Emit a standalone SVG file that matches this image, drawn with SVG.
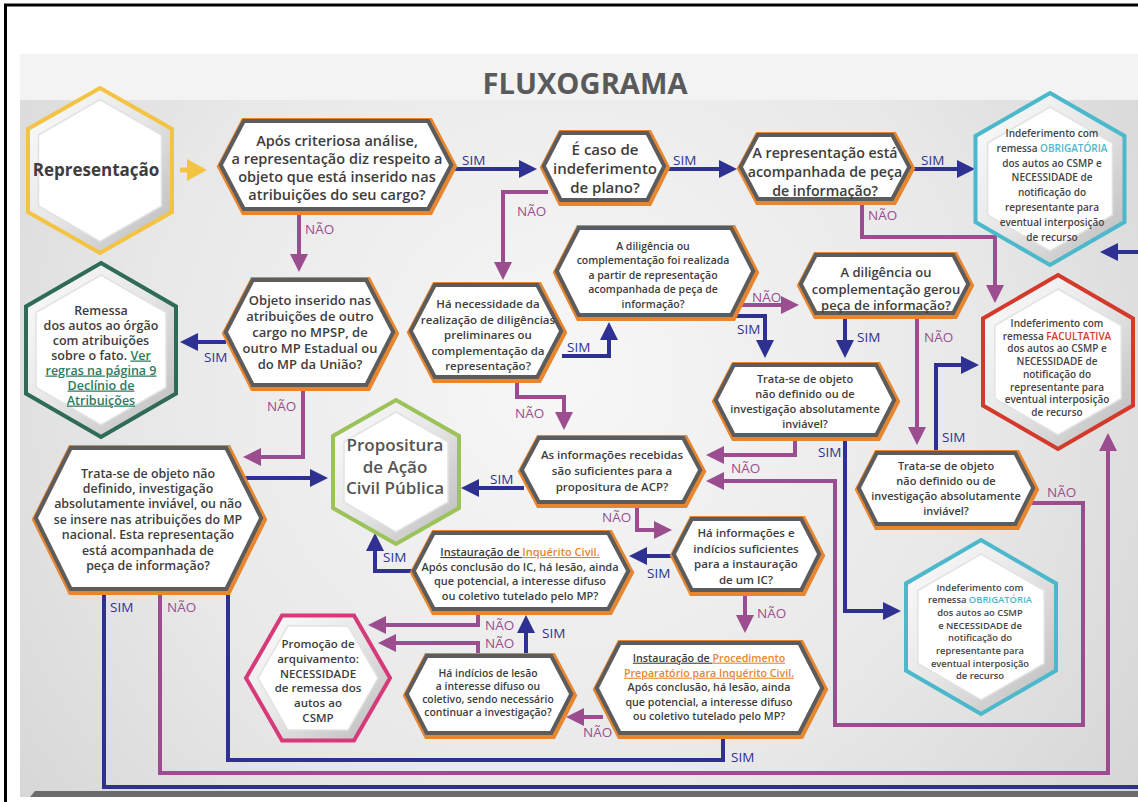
<svg xmlns="http://www.w3.org/2000/svg" width="1138" height="802" viewBox="0 0 1138 802">
<style>
.t{font-family:"Open Sans","Noto Sans",sans-serif;font-weight:600;fill:#3d3d3d;text-anchor:middle}
.sm{font-family:"Open Sans","Noto Sans",sans-serif;font-weight:600;fill:#444;text-anchor:middle}
.lb{font-family:"Open Sans","Noto Sans",sans-serif;font-size:13.5px}
.sim{fill:#2e3192}
.nao{fill:#9b4d8f}
.cb{fill:none;stroke:#2e3192;stroke-width:4;marker-end:url(#mb)}
.cp{fill:none;stroke:#9b4d8f;stroke-width:4;marker-end:url(#mp)}
.ho{fill:none;stroke:#e8862f;stroke-width:13;stroke-linejoin:miter}
.hg{fill:none;stroke:#5c5c5c;stroke-width:8}
.hw{fill:#fff}
.ring{fill:url(#bev);stroke-width:4}
.in{fill:#fff;stroke:#e2e2e2;stroke-width:1.5}
</style>
<defs>
<radialGradient id="bg" cx="560" cy="380" r="700" gradientUnits="userSpaceOnUse">
<stop offset="0" stop-color="#f7f7f7"/><stop offset="0.6" stop-color="#e8e8e8"/><stop offset="1" stop-color="#d6d6d6"/>
</radialGradient>
<linearGradient id="bev" x1="0" y1="0" x2="1" y2="1">
<stop offset="0" stop-color="#fdfdfd"/><stop offset="0.5" stop-color="#e6e6e6"/><stop offset="1" stop-color="#b9b9b9"/>
</linearGradient>
<marker id="mb" markerUnits="userSpaceOnUse" markerWidth="20" markerHeight="20" refX="14" refY="9" orient="auto"><path d="M0,0 L18,9 L0,18 z" fill="#2e3192"/></marker>
<marker id="mp" markerUnits="userSpaceOnUse" markerWidth="20" markerHeight="20" refX="14" refY="9" orient="auto"><path d="M0,0 L18,9 L0,18 z" fill="#9b4d8f"/></marker>
<marker id="my" markerUnits="userSpaceOnUse" markerWidth="22" markerHeight="24" refX="16" refY="11" orient="auto"><path d="M0,0 L20,11 L0,22 z" fill="#f3c444"/></marker>
<polygon id="pB" points="223,165 245,123 427,123 449,165 427,207 245,207"/>
<polygon id="pC" points="546,166 562,135 646,135 662,166 646,198 562,198"/>
<polygon id="pD" points="743,167 759,137 891,137 907,167 891,197 759,197"/>
<polygon id="pH" points="228,332 254,282 365,282 391,332 365,383 254,383"/>
<polygon id="pI" points="413,331 436,287 536,287 559,331 536,375 436,375"/>
<polygon id="pJ" points="559,271 580,230 730,230 751,271 730,313 580,313"/>
<polygon id="pK" points="803,284 817,257 952,257 966,284 952,311 817,311"/>
<polygon id="pL" points="718,400 735,367 875,367 892,400 875,433 735,433"/>
<polygon id="pM" points="861,488 878,455 1014,455 1031,488 1014,522 878,522"/>
<polygon id="pN" points="524,470 540,440 682,440 698,470 682,500 540,500"/>
<polygon id="pP" points="38,518 72,450 225,450 259,518 225,587 72,587"/>
<polygon id="pQ" points="416,571 435,535 607,535 626,571 607,607 435,607"/>
<polygon id="pR" points="676,554 693,521 800,521 817,554 800,588 693,588"/>
<polygon id="pS" points="599,688 621,645 798,645 820,688 798,731 621,731"/>
<polygon id="pT" points="409,694 428,658 550,658 569,694 550,731 428,731"/>
</defs>

<g id="background">
<rect x="0" y="0" width="1138" height="802" fill="#fff"/>
<rect x="20" y="54" width="1118" height="46" fill="#f3f3f3"/>
<rect x="20" y="100" width="1118" height="697" fill="url(#bg)"/>
<polygon points="30,797 35,791 1138,791 1138,797" fill="#6b6b6b"/>
<path d="M5.5,802 V5 H1138" fill="none" stroke="#000" stroke-width="3"/>
<text x="585" y="94" text-anchor="middle" font-family="'Open Sans','Noto Sans',sans-serif" font-weight="700" font-size="29" fill="#5a5a5a" textLength="205" lengthAdjust="spacingAndGlyphs">FLUXOGRAMA</text>
</g>

<g id="connectors">
<path d="M180,170 H203" fill="none" stroke="#f3c444" stroke-width="5" marker-end="url(#my)"/>
<path class="cb" d="M455,169 H533"/>
<path class="cb" d="M668,169 H733"/>
<path class="cb" d="M913,169 H971"/>
<path class="cp" d="M299,212 V268"/>
<path class="cp" d="M548,192 H503 V276"/>
<path class="cb" d="M562,356 H609 V326"/>
<path class="cp" d="M517,378 V397 H564 V426"/>
<path class="cp" d="M740,305 H795"/>
<path class="cb" d="M736,316 H765 V354"/>
<path class="cb" d="M845,316 V354"/>
<path class="cp" d="M917,316 V441"/>
<path class="cp" d="M862,202 V237 H995 V299"/>
<path class="cb" d="M936,450 V365 H975"/>
<path class="cp" d="M795,438 V455 H710"/>
<path class="cp" d="M1028,503 H1083 V725 H835 V481 H710"/>
<path class="cb" d="M845,438 V611 H897"/>
<path class="cb" d="M524,488 H465"/>
<path class="cp" d="M637,505 V530 H668"/>
<path class="cb" d="M672,556 H633"/>
<path class="cp" d="M745,593 V629"/>
<path class="cb" d="M412,571 H375 V537"/>
<path class="cp" d="M478,612 V625 H372"/>
<path class="cp" d="M478,655 V643 H382"/>
<path class="cb" d="M526,655 V619"/>
<path class="cp" d="M603,717 H570"/>
<path class="cb" d="M723,736 V760 H228 V478 H324"/>
<path class="cp" d="M160,592 V773 H1108 V437"/>
<path fill="none" stroke="#2e3192" stroke-width="4" d="M104,592 V787 H1140"/>
<path class="cb" d="M1140,252 H1104"/>
<path class="cb" d="M226,342 H184"/>
<path class="cp" d="M303,388 V457 H247"/>
<g class="lb">
<text class="sim" x="462" y="165">SIM</text>
<text class="sim" x="673" y="165">SIM</text>
<text class="sim" x="921" y="165">SIM</text>
<text class="nao" x="305" y="234">NÃO</text>
<text class="nao" x="517" y="216">NÃO</text>
<text class="sim" x="567" y="352">SIM</text>
<text class="nao" x="515" y="418">NÃO</text>
<text class="nao" x="752" y="302">NÃO</text>
<text class="sim" x="737" y="334">SIM</text>
<text class="sim" x="857" y="342">SIM</text>
<text class="nao" x="924" y="342">NÃO</text>
<text class="nao" x="868" y="220">NÃO</text>
<text class="sim" x="942" y="442">SIM</text>
<text class="nao" x="731" y="473">NÃO</text>
<text class="nao" x="1047" y="497">NÃO</text>
<text class="sim" x="818" y="457">SIM</text>
<text class="sim" x="490" y="484">SIM</text>
<text class="nao" x="602" y="522">NÃO</text>
<text class="sim" x="647" y="578">SIM</text>
<text class="nao" x="757" y="618">NÃO</text>
<text class="sim" x="383" y="562">SIM</text>
<text class="nao" x="485" y="630">NÃO</text>
<text class="nao" x="485" y="648">NÃO</text>
<text class="sim" x="542" y="638">SIM</text>
<text class="nao" x="583" y="737">NÃO</text>
<text class="sim" x="731" y="762">SIM</text>
<text class="nao" x="167" y="612">NÃO</text>
<text class="sim" x="110" y="612">SIM</text>
<text class="sim" x="204" y="362">SIM</text>
<text class="nao" x="267" y="411">NÃO</text>
</g>
</g>

<g id="n-representacao">
<polygon class="ring" stroke="#f3c444" points="100,88 172,129 172,212 100,253 28,212 28,129"/>
<polygon class="in" points="100,99.5 161.5,135 161.5,206 100,241.5 38.5,206 38.5,135"/>
<text class="t" x="96" y="176" font-size="17" style="font-weight:700">Representação</text>
</g>

<g id="n-analise">
<use href="#pB" class="ho" transform="translate(1,1.5)"/><use href="#pB" class="hg"/><use href="#pB" class="hw"/>
<text class="t" font-size="14.5"><tspan x="337" y="146">Após criteriosa análise,</tspan><tspan x="337" y="164">a representação diz respeito a</tspan><tspan x="337" y="182">objeto que está inserido nas</tspan><tspan x="337" y="200">atribuições do seu cargo?</tspan></text>
</g>

<g id="n-indeferimento-plano">
<use href="#pC" class="ho" transform="translate(1,1.5)"/><use href="#pC" class="hg"/><use href="#pC" class="hw"/>
<text class="t" font-size="15"><tspan x="605" y="155">É caso de</tspan><tspan x="605" y="174">indeferimento</tspan><tspan x="605" y="193">de plano?</tspan></text>
</g>

<g id="n-acompanhada">
<use href="#pD" class="ho" transform="translate(1,1.5)"/><use href="#pD" class="hg"/><use href="#pD" class="hw"/>
<text class="t" font-size="14.2"><tspan x="825" y="158">A representação está</tspan><tspan x="825" y="177">acompanhada de peça</tspan><tspan x="825" y="196">de informação?</tspan></text>
</g>

<g id="n-obrigatoria-1">
<polygon class="ring" stroke="#4bb8cc" points="1050,93 1124.5,136 1124.5,222 1050,265 975.5,222 975.5,136"/>
<polygon class="in" points="1050,107 1112.4,143 1112.4,215 1050,251 987.6,215 987.6,143"/>
<text class="sm" font-size="10"><tspan x="1052" y="137">Indeferimento com</tspan><tspan x="1052" y="151.8">remessa <tspan fill="#4bb8cc">OBRIGATÓRIA</tspan></tspan><tspan x="1052" y="166.6">dos autos ao CSMP e</tspan><tspan x="1052" y="181.4">NECESSIDADE de</tspan><tspan x="1052" y="196.2">notificação do</tspan><tspan x="1052" y="211">representante para</tspan><tspan x="1052" y="225.8">eventual interposição</tspan><tspan x="1052" y="240.6">de recurso</tspan></text>
</g>

<g id="n-facultativa">
<polygon class="ring" stroke="#d43a2c" points="1058,275 1133,318.5 1133,405.5 1058,449 983,405.5 983,318.5"/>
<polygon class="in" points="1058,289 1121.2,325.5 1121.2,398.5 1058,435 994.8,398.5 994.8,325.5"/>
<text class="sm" font-size="10"><tspan x="1057" y="327">Indeferimento com</tspan><tspan x="1057" y="339.7">remessa <tspan fill="#d43a2c">FACULTATIVA</tspan></tspan><tspan x="1057" y="352.4">dos autos ao CSMP e</tspan><tspan x="1057" y="365.1">NECESSIDADE de</tspan><tspan x="1057" y="377.8">notificação do</tspan><tspan x="1057" y="390.5">representante para</tspan><tspan x="1057" y="403.2">eventual interposição</tspan><tspan x="1057" y="415.9">de recurso</tspan></text>
</g>

<g id="n-remessa-orgao">
<polygon class="ring" stroke="#2f6b57" points="101,263 176,306.5 176,393.5 101,437 26,393.5 26,306.5"/>
<polygon class="in" points="101,275 166,312.5 166,387.5 101,425 36,387.5 36,312.5"/>
<text class="t" font-size="12.5"><tspan x="101" y="314.5">Remessa</tspan><tspan x="101" y="329.5">dos autos ao órgão</tspan><tspan x="101" y="344.5">com atribuições</tspan><tspan x="101" y="359.5">sobre o fato. <tspan fill="#2d7a5f" text-decoration="underline">Ver</tspan></tspan><tspan x="101" y="374.5" fill="#2d7a5f" text-decoration="underline">regras na página 9</tspan><tspan x="101" y="389.5" fill="#2d7a5f" text-decoration="underline">Declínio de</tspan><tspan x="101" y="404.5" fill="#2d7a5f" text-decoration="underline">Atribuições</tspan></text>
</g>

<g id="n-outro-cargo">
<use href="#pH" class="ho" transform="translate(1,1.5)"/><use href="#pH" class="hg"/><use href="#pH" class="hw"/>
<text class="t" font-size="13"><tspan x="310" y="304.5">Objeto inserido nas</tspan><tspan x="310" y="320.5">atribuições de outro</tspan><tspan x="310" y="336.5">cargo no MPSP, de</tspan><tspan x="310" y="352.5">outro MP Estadual ou</tspan><tspan x="310" y="368.5">do MP da União?</tspan></text>
</g>

<g id="n-diligencias">
<use href="#pI" class="ho" transform="translate(1,1.5)"/><use href="#pI" class="hg"/><use href="#pI" class="hw"/>
<text class="t" font-size="11.5"><tspan x="488" y="308">Há necessidade da</tspan><tspan x="488" y="323.5">realização de diligências</tspan><tspan x="488" y="339">preliminares ou</tspan><tspan x="488" y="354.5">complementação da</tspan><tspan x="488" y="370">representação?</tspan></text>
</g>

<g id="n-diligencia-realizada">
<use href="#pJ" class="ho" transform="translate(1,1.5)"/><use href="#pJ" class="hg"/><use href="#pJ" class="hw"/>
<text class="t" font-size="10.5"><tspan x="653" y="249.7">A diligência ou</tspan><tspan x="653" y="264.2">complementação foi realizada</tspan><tspan x="653" y="278.7">a partir de representação</tspan><tspan x="653" y="293.2">acompanhada de peça de</tspan><tspan x="653" y="307.7">informação?</tspan></text>
</g>

<g id="n-gerou-peca">
<use href="#pK" class="ho" transform="translate(1,1.5)"/><use href="#pK" class="hg"/><use href="#pK" class="hw"/>
<text class="t" font-size="13"><tspan x="886" y="276.5">A diligência ou</tspan><tspan x="886" y="293.5">complementação gerou</tspan><tspan x="886" y="309.5">peça de informação?</tspan></text>
</g>

<g id="n-objeto-1">
<use href="#pL" class="ho" transform="translate(1,1.5)"/><use href="#pL" class="hg"/><use href="#pL" class="hw"/>
<text class="t" font-size="11"><tspan x="805" y="382.5">Trata-se de objeto</tspan><tspan x="805" y="397.5">não definido ou de</tspan><tspan x="805" y="412.5">investigação absolutamente</tspan><tspan x="805" y="427.5">inviável?</tspan></text>
</g>

<g id="n-objeto-2">
<use href="#pM" class="ho" transform="translate(1,1.5)"/><use href="#pM" class="hg"/><use href="#pM" class="hw"/>
<text class="t" font-size="11"><tspan x="946" y="470">Trata-se de objeto</tspan><tspan x="946" y="485">não definido ou de</tspan><tspan x="946" y="500">investigação absolutamente</tspan><tspan x="946" y="515">inviável?</tspan></text>
</g>

<g id="n-informacoes-acp">
<use href="#pN" class="ho" transform="translate(1,1.5)"/><use href="#pN" class="hg"/><use href="#pN" class="hw"/>
<text class="t" font-size="11.5"><tspan x="612" y="459">As informações recebidas</tspan><tspan x="612" y="475">são  suficientes para a</tspan><tspan x="612" y="491">propositura de ACP?</tspan></text>
</g>

<g id="n-propositura">
<polygon class="ring" stroke="#9cc25a" points="396,400 459,436 459,508 396,544 333,508 333,436"/>
<polygon class="in" points="396,412 448,442 448,502 396,532 344,502 344,442"/>
<text class="t" font-size="17" style="fill:#555"><tspan x="395" y="451">Propositura</tspan><tspan x="395" y="472.5">de Ação</tspan><tspan x="395" y="494">Civil Pública</tspan></text>
</g>

<g id="n-objeto-nacional">
<use href="#pP" class="ho" transform="translate(1,1.5)"/><use href="#pP" class="hg"/><use href="#pP" class="hw"/>
<text class="t" font-size="12.4"><tspan x="148" y="477.5">Trata-se de objeto não</tspan><tspan x="148" y="492.9">definido, investigação</tspan><tspan x="148" y="508.3">absolutamente inviável, ou não</tspan><tspan x="148" y="523.7">se insere nas atribuições do MP</tspan><tspan x="148" y="539.1">nacional. Esta representação</tspan><tspan x="148" y="554.5">está acompanhada de</tspan><tspan x="148" y="569.9">peça de informação?</tspan></text>
</g>

<g id="n-inquerito">
<use href="#pQ" class="ho" transform="translate(1,1.5)"/><use href="#pQ" class="hg"/><use href="#pQ" class="hw"/>
<text class="t" font-size="11"><tspan x="520" y="556"><tspan text-decoration="underline">Instauração de </tspan><tspan fill="#e8862f" text-decoration="underline">Inquérito Civil.</tspan></tspan><tspan x="520" y="570.5">Após conclusão do IC, há lesão, ainda</tspan><tspan x="520" y="585">que potencial, a interesse difuso</tspan><tspan x="520" y="599.5">ou coletivo tutelado pelo MP?</tspan></text>
</g>

<g id="n-indicios-ic">
<use href="#pR" class="ho" transform="translate(1,1.5)"/><use href="#pR" class="hg"/><use href="#pR" class="hw"/>
<text class="t" font-size="11.5"><tspan x="746" y="537">Há informações e</tspan><tspan x="746" y="552.5">indícios suficientes</tspan><tspan x="746" y="568">para a instauração</tspan><tspan x="746" y="583.5">de um IC?</tspan></text>
</g>

<g id="n-procedimento">
<use href="#pS" class="ho" transform="translate(1,1.5)"/><use href="#pS" class="hg"/><use href="#pS" class="hw"/>
<text class="t" font-size="10.7"><tspan x="709" y="661.7"><tspan text-decoration="underline">Instauração de </tspan><tspan fill="#e8862f" text-decoration="underline">Procedimento</tspan></tspan><tspan x="709" y="676.7" fill="#e8862f" text-decoration="underline">Preparatório para Inquérito Civil.</tspan><tspan x="709" y="691.2">Após conclusão, há lesão, ainda</tspan><tspan x="709" y="705.7">que potencial, a interesse difuso</tspan><tspan x="709" y="720.2">ou coletivo tutelado pelo MP?</tspan></text>
</g>

<g id="n-indicios-lesao">
<use href="#pT" class="ho" transform="translate(1,1.5)"/><use href="#pT" class="hg"/><use href="#pT" class="hw"/>
<text class="t" font-size="10.4"><tspan x="488" y="676.6">Há indícios de lesão</tspan><tspan x="488" y="689.6">a interesse difuso ou</tspan><tspan x="488" y="702.6">coletivo, sendo necessário</tspan><tspan x="488" y="715.6">continuar a investigação?</tspan></text>
</g>

<g id="n-arquivamento">
<polygon class="ring" stroke="#d63a7a" points="246,678 282,615.6 354,615.6 390,678 354,740.4 282,740.4"/>
<polygon class="in" points="258,678 288,626 348,626 378,678 348,730 288,730"/>
<text class="t" font-size="11.5"><tspan x="318" y="648">Promoção de</tspan><tspan x="318" y="662.8">arquivamento:</tspan><tspan x="318" y="677.6">NECESSIDADE</tspan><tspan x="318" y="692.4">de remessa dos</tspan><tspan x="318" y="707.2">autos ao</tspan><tspan x="318" y="722">CSMP</tspan></text>
</g>

<g id="n-obrigatoria-2">
<polygon class="ring" stroke="#4bb8cc" points="981,540 1056,583.5 1056,670.5 981,714 906,670.5 906,583.5"/>
<polygon class="in" points="981,554 1044.2,590.5 1044.2,663.5 981,700 917.8,663.5 917.8,590.5"/>
<text class="sm" font-size="9.4"><tspan x="980" y="590.5">Indeferimento com</tspan><tspan x="980" y="603.2">remessa <tspan fill="#4bb8cc">OBRIGATÓRIA</tspan></tspan><tspan x="980" y="615.9">dos autos ao CSMP</tspan><tspan x="980" y="628.6">e NECESSIDADE de</tspan><tspan x="980" y="641.3">notificação do</tspan><tspan x="980" y="654">representante para</tspan><tspan x="980" y="666.7">eventual interposição</tspan><tspan x="980" y="679.4">de recurso</tspan></text>
</g>
</svg>
